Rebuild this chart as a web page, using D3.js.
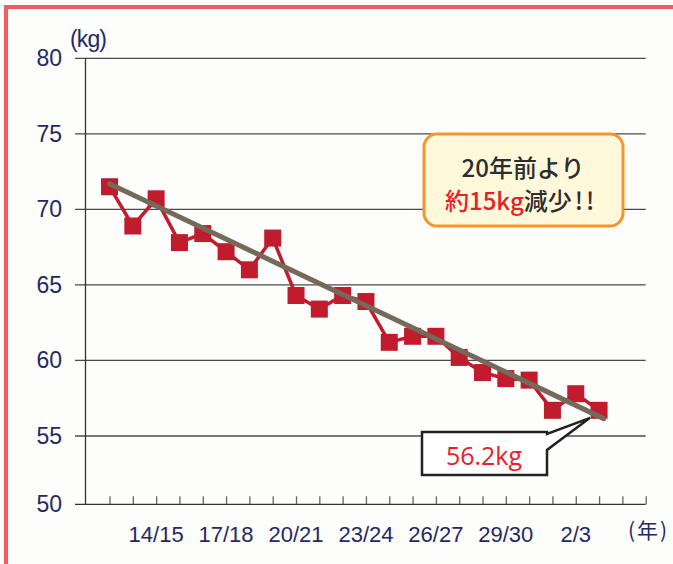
<html>
<head>
<meta charset="utf-8">
<script src="https://d3js.org/d3.v7.min.js"></script>
<style>
body {margin:0; background:#fdfdfb;}
text {font-family: "Liberation Sans", Arial, sans-serif;}
.jp {font-family: "Noto Sans CJK JP", sans-serif;}
</style>
</head>
<body>
<svg width=673 height=564></svg>
<script>
// years (Heisei 12 .. Reiwa 3), index 0..21
var years = ["12","13","14","15","16","17","18","19","20","21","22","23","24","25","26","27","28","29","30","元","2","3"];
var weights = [71.5, 68.9, 70.7, 67.8, 68.4, 67.2, 66.0, 68.1, 64.3, 63.4, 64.3, 63.9, 61.2, 61.6, 61.6, 60.2, 59.2, 58.8, 58.7, 56.7, 57.8, 56.7];
var trendIdx = [0, 21.2];
var trendVal = [71.7, 56.15];
var yTicks = [50, 55, 60, 65, 70, 75, 80];
var xLabelIdx = [2, 5, 8, 11, 14, 17, 20];
var xLabels = ["14/15", "17/18", "20/21", "23/24", "26/27", "29/30", "2/3"];

var svg = d3.select("svg");
var navy = "#262862";

// page frame
svg.append("rect").attr("x", 6).attr("y", 7).attr("width", 700).attr("height", 600)
   .attr("fill", "none").attr("stroke", "#f15b61").attr("stroke-width", 4);

var xs = d3.scaleLinear().domain([-1, 23]).range([86.2, 645.7]);
var ys = d3.scaleLinear().domain([50, 55, 80]).range([504.3, 436, 58.3]);

// gridlines
svg.append("g").selectAll("line").data(yTicks.filter(function(d){return d > 50;}))
   .enter().append("line")
   .attr("x1", 75).attr("x2", 645.7)
   .attr("y1", function(d){return ys(d);}).attr("y2", function(d){return ys(d);})
   .attr("stroke", "#4a4a4a").attr("stroke-width", 1.3);

// x axis (ticks inside)
var xAxis = d3.axisBottom(xs).tickValues(d3.range(0, 24)).tickSize(-8).tickFormat("");
var gx = svg.append("g").attr("transform", "translate(0," + ys(50) + ")").call(xAxis);
gx.select(".domain").remove();
gx.selectAll(".tick line").attr("stroke", "#666").attr("stroke-width", 1.3);
svg.append("line").attr("x1", 75).attr("x2", 645.7).attr("y1", ys(50)).attr("y2", ys(50))
   .attr("stroke", "#333").attr("stroke-width", 1.3);
// y axis line
svg.append("line").attr("x1", 85.5).attr("x2", 85.5).attr("y1", ys(80)).attr("y2", ys(50))
   .attr("stroke", "#333").attr("stroke-width", 1.3);

// y labels
svg.append("g").selectAll("text").data(yTicks).enter().append("text")
   .attr("x", 62).attr("y", function(d){return ys(d) + 8;})
   .attr("text-anchor", "end").attr("font-size", 23).attr("fill", navy)
   .text(function(d){return d;});

// x labels
svg.append("g").selectAll("text").data(xLabels).enter().append("text")
   .attr("x", function(d, i){return xs(xLabelIdx[i]);}).attr("y", 542)
   .attr("text-anchor", "middle").attr("font-size", 22).attr("fill", navy)
   .text(function(d){return d;});

svg.append("text").attr("x", 70).attr("y", 47)
   .attr("font-size", 23).attr("fill", navy).attr("textLength", 37).text("(kg)");
svg.append("text").attr("class", "jp").attr("x", 628).attr("y", 538)
   .attr("font-size", 21).attr("fill", navy).attr("textLength", 39).text("(年)");

// data line + markers
var line = d3.line().x(function(d, i){return xs(i);}).y(function(d){return ys(d);});
svg.append("path").datum(weights).attr("d", line)
   .attr("fill", "none").attr("stroke", "#c01c2d").attr("stroke-width", 3.5);
svg.append("g").selectAll("rect").data(weights).enter().append("rect")
   .attr("x", function(d, i){return xs(i) - 8.5;}).attr("y", function(d){return ys(d) - 8.5;})
   .attr("width", 17).attr("height", 17).attr("fill", "#c01c2d");

// trend line
svg.append("line")
   .attr("x1", xs(trendIdx[0])).attr("y1", ys(trendVal[0]))
   .attr("x2", xs(trendIdx[1])).attr("y2", ys(trendVal[1]))
   .attr("stroke", "#75695a").attr("stroke-width", 5).attr("stroke-linecap", "round");

// note box
svg.append("rect").attr("x", 424).attr("y", 134).attr("width", 199).attr("height", 92)
   .attr("rx", 13).attr("fill", "#fff8da").attr("stroke", "#f3962b").attr("stroke-width", 3);
svg.append("text").attr("class", "jp").attr("x", 523).attr("y", 177)
   .attr("text-anchor", "middle").attr("font-size", 24).attr("font-weight", 500).attr("fill", "#2d2d2d")
   .text("20年前より");
var t2 = svg.append("text").attr("class", "jp").attr("x", 445).attr("y", 210)
   .attr("font-size", 24).attr("font-weight", 500).attr("fill", "#2d2d2d");
t2.append("tspan").attr("fill", "#e8202a").text("約15kg");
t2.append("tspan").text("減少");
t2.append("tspan").attr("dx", 3).text("!");
t2.append("tspan").attr("dx", 3).text("!");

// 56.2kg callout pointing at the trend end
var tx = xs(21) - 9, ty = ys(56.4) + 3;
svg.append("path")
   .attr("d", "M422,432 L547,432 L547,434 L" + tx + "," + ty + " L547,450 L547,475 L422,475 Z")
   .attr("fill", "#fff").attr("stroke", "#222").attr("stroke-width", 2.5).attr("stroke-linejoin", "miter");
svg.append("text").attr("x", 484).attr("y", 465).attr("text-anchor", "middle")
   .attr("font-size", 25).attr("fill", "#e8202a").text("56.2kg")
   .style("font-family", "'Open Sans', sans-serif");
</script>
</body>
</html>
